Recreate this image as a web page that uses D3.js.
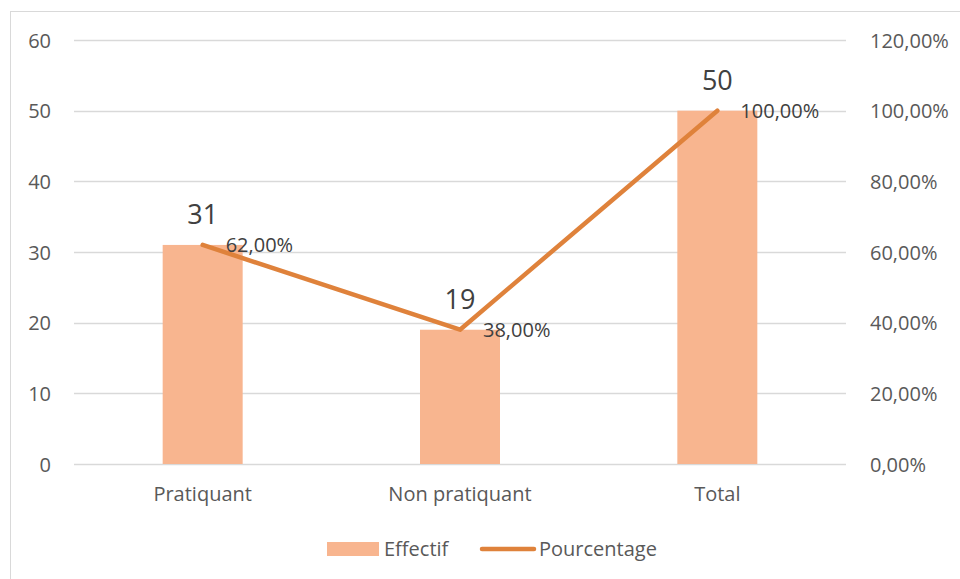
<!DOCTYPE html>
<html>
<head>
<meta charset="utf-8">
<script src="https://cdn.jsdelivr.net/npm/d3@7"></script>
<style>
  body { margin: 0; background: #fff; }
  svg text { font-family: "Open Sans", sans-serif; fill: #595959; }
</style>
</head>
<body>
<svg id="chart" width="960" height="579"></svg>
<script>
var categories = ['Pratiquant', 'Non pratiquant', 'Total'];
var effectif = [31, 19, 50];
var pourcentage = [0.62, 0.38, 1.00];
var leftTicks = [0, 10, 20, 30, 40, 50, 60];
var rightTicks = [0, 0.2, 0.4, 0.6, 0.8, 1.0, 1.2];

var svg = d3.select('#chart');
var width = 960, height = 579;
var margin = { top: 40, bottom: 115, left: 74, right: 114 };

var fmtPct = function(v) { return (v * 100).toFixed(2).replace('.', ',') + '%'; };

// chart border
svg.append('rect')
  .attr('x', 10.5).attr('y', 11.5)
  .attr('width', 960).attr('height', 580)
  .attr('fill', 'none').attr('stroke', '#d9d9d9');

var x = d3.scaleBand()
  .domain(categories)
  .range([margin.left, width - margin.right]);

var yL = d3.scaleLinear().domain([0, 60]).range([height - margin.bottom, margin.top]);
var yR = d3.scaleLinear().domain([0, 1.2]).range([height - margin.bottom, margin.top]);

// gridlines
svg.append('g')
  .selectAll('line')
  .data(leftTicks)
  .enter()
  .append('line')
  .attr('x1', margin.left).attr('x2', width - margin.right)
  .attr('y1', function(d) { return Math.round(yL(d)) + 0.5; })
  .attr('y2', function(d) { return Math.round(yL(d)) + 0.5; })
  .attr('stroke', '#d9d9d9').attr('stroke-width', 1.3);

// left axis
var gL = svg.append('g')
  .attr('transform', 'translate(' + (margin.left - 23) + ',0)')
  .call(d3.axisLeft(yL).tickValues(leftTicks).tickSize(0).tickPadding(0));
gL.select('.domain').remove();
gL.selectAll('text').style('font-size', '20px').attr('dy', '0.35em');

// right axis
var gR = svg.append('g')
  .attr('transform', 'translate(' + (width - margin.right + 24) + ',0)')
  .call(d3.axisRight(yR).tickValues(rightTicks).tickSize(0).tickPadding(0).tickFormat(fmtPct));
gR.select('.domain').remove();
gR.selectAll('text').style('font-size', '20px').attr('dy', '0.35em');

// category labels
svg.append('g')
  .selectAll('text')
  .data(categories)
  .enter()
  .append('text')
  .attr('x', function(d) { return x(d) + x.bandwidth() / 2; })
  .attr('y', height - margin.bottom + 30)
  .attr('dy', '0.35em')
  .attr('text-anchor', 'middle')
  .style('font-size', '20px')
  .text(function(d) { return d; });

// bars
var barW = 80;
svg.selectAll('.bar')
  .data(effectif)
  .enter()
  .append('rect')
  .attr('class', 'bar')
  .attr('x', function(d, i) { return x(categories[i]) + x.bandwidth() / 2 - barW / 2; })
  .attr('y', function(d) { return yL(d); })
  .attr('width', barW)
  .attr('height', function(d) { return yL(0) - yL(d); })
  .attr('fill', '#f8b58f');

// bar labels
svg.selectAll('.barlabel')
  .data(effectif)
  .enter()
  .append('text')
  .attr('class', 'barlabel')
  .attr('x', function(d, i) { return x(categories[i]) + x.bandwidth() / 2; })
  .attr('y', function(d) { return yL(d) - 30; })
  .attr('dy', '0.35em')
  .attr('text-anchor', 'middle')
  .style('font-size', '27px')
  .style('fill', '#404040')
  .text(function(d) { return d; });

// line
var line = d3.line()
  .x(function(d, i) { return x(categories[i]) + x.bandwidth() / 2; })
  .y(function(d) { return yR(d); });

svg.append('path')
  .datum(pourcentage)
  .attr('d', line)
  .attr('fill', 'none')
  .attr('stroke', '#df823b')
  .attr('stroke-width', 4.5)
  .attr('stroke-linecap', 'round')
  .attr('stroke-linejoin', 'round');

// line labels
svg.selectAll('.pctlabel')
  .data(pourcentage)
  .enter()
  .append('text')
  .attr('class', 'pctlabel')
  .attr('x', function(d, i) { return x(categories[i]) + x.bandwidth() / 2 + 23; })
  .attr('y', function(d) { return yR(d); })
  .attr('dy', '0.35em')
  .style('font-size', '20px')
  .style('fill', '#404040')
  .text(fmtPct);

// legend
var legend = svg.append('g').attr('transform', 'translate(0,549)');
legend.append('rect')
  .attr('x', 327).attr('y', -7).attr('width', 52).attr('height', 14)
  .attr('fill', '#f8b58f');
legend.append('text')
  .attr('x', 384).attr('y', 0).attr('dy', '0.35em')
  .style('font-size', '20px').text('Effectif');
legend.append('line')
  .attr('x1', 482).attr('x2', 534).attr('y1', 0).attr('y2', 0)
  .attr('stroke', '#df823b').attr('stroke-width', 4.5).attr('stroke-linecap', 'round');
legend.append('text')
  .attr('x', 539).attr('y', 0).attr('dy', '0.35em')
  .style('font-size', '20px').text('Pourcentage');
</script>
</body>
</html>
